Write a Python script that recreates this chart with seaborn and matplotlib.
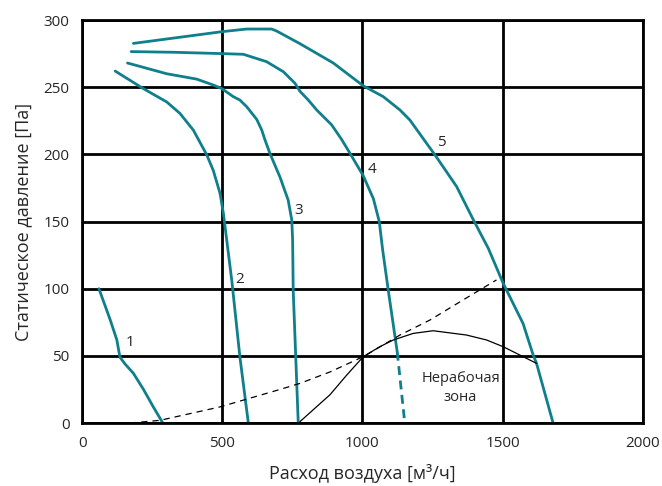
import pandas as pd
import numpy as np
import matplotlib.pyplot as plt
import seaborn as sns

# ==============================
# Data
# ==============================
c1_x = [60, 100, 124, 135, 153, 183, 219, 254, 288]
c1_y = [100, 77, 61.8, 49, 44, 37, 25, 12, 0]

c2_x = [118, 218, 302, 349, 397, 445, 468, 492, 504, 516, 534, 563, 593]
c2_y = [262, 249, 239, 230.5, 218, 199.5, 188, 171, 156, 136, 106, 49, 0]

c3_x = [162, 302, 409, 468, 498, 539, 563, 587, 623, 641, 652, 670, 706, 735, 748, 751, 753, 771]
c3_y = [268, 260, 256, 251.6, 249, 243, 240.4, 235.5, 226, 218, 211, 200.7, 183, 166, 151, 136, 99, 0]

c4_x = [175, 326, 498, 575, 658, 718, 759, 777, 807, 837, 890, 926, 955, 1003, 1039, 1060, 1072, 1092, 1124]
c4_y = [276.5, 276, 275, 274.5, 269, 261.5, 253, 247, 240.4, 233, 222, 211, 201, 184, 167, 150, 129, 99, 53]
c4_dash_x = [1124, 1151]
c4_dash_y = [53, 0]

c5_x = [183, 498, 587, 676, 694, 777, 896, 1003, 1074, 1134, 1169, 1264, 1336, 1395, 1449, 1502, 1573, 1609, 1621, 1680]
c5_y = [282.6, 291.3, 293.3, 293.3, 291.8, 282.4, 268, 251, 243, 233, 225.6, 198, 176, 151.5, 130, 104, 74, 50.6, 44.4, 0]

sys_x = [171, 278, 492, 706, 777, 884, 1003, 1134, 1241, 1359, 1478]
sys_y = [0, 2, 12, 25, 29.5, 38, 49.4, 65.5, 76.7, 91.6, 106.5]

zone_x = [777, 884, 944, 1003, 1062, 1110, 1181, 1252, 1371, 1443, 1502, 1621]
zone_y = [1, 21, 35.7, 49.4, 56.8, 61.8, 66.7, 68.7, 65.5, 61.8, 56.8, 44.4]

labels = ['1', '2', '3', '4', '5']
label_x = [171, 563, 771, 1035, 1282]
label_y = [59.6, 107, 158, 189, 208.7]

# ==============================
# Plot
# ==============================
sns.set_style("white")
plt.rcParams['font.family'] = ['Open Sans', 'DejaVu Sans']

teal = '#0f7f8c'
fig = plt.figure(figsize=(6.62, 4.86), dpi=100)
ax = fig.add_axes([0.124, 0.1296, 0.847, 0.8292])

for xs, ys in [(c1_x, c1_y), (c2_x, c2_y), (c3_x, c3_y), (c4_x, c4_y), (c5_x, c5_y)]:
    sns.lineplot(x=xs, y=ys, sort=False, estimator=None, color=teal, lw=2, ax=ax)
sns.lineplot(x=c4_dash_x, y=c4_dash_y, sort=False, estimator=None, color=teal, lw=2,
             linestyle=(0, (3.2, 2)), ax=ax)
sns.lineplot(x=sys_x, y=sys_y, sort=False, estimator=None, color='black', lw=0.9,
             linestyle=(0, (5, 4)), ax=ax)
sns.lineplot(x=zone_x, y=zone_y, sort=False, estimator=None, color='black', lw=0.9, ax=ax)

for t, lx, ly in zip(labels, label_x, label_y):
    ax.text(lx, ly, t, fontsize=11, ha='center', va='center')
ax.text(1350, 26, 'Нерабочая\nзона', fontsize=10.5, ha='center', va='center', linespacing=1.35)

ax.set_xlim(0, 2000)
ax.set_ylim(0, 300)
ax.set_xticks([0, 500, 1000, 1500, 2000])
ax.set_yticks([0, 50, 100, 150, 200, 250, 300])
ax.grid(True, color='black', lw=2)
ax.set_axisbelow(True)
for s in ax.spines.values():
    s.set_color('black')
    s.set_linewidth(2)
ax.tick_params(axis='both', direction='out', length=5, width=2, color='black',
               labelsize=11, pad=4)
ax.set_xlabel('Расход воздуха [м³/ч]', fontsize=13, labelpad=10)
ax.set_ylabel('Статическое давление [Па]', fontsize=13, labelpad=8)

plt.savefig('out.png', dpi=100)
